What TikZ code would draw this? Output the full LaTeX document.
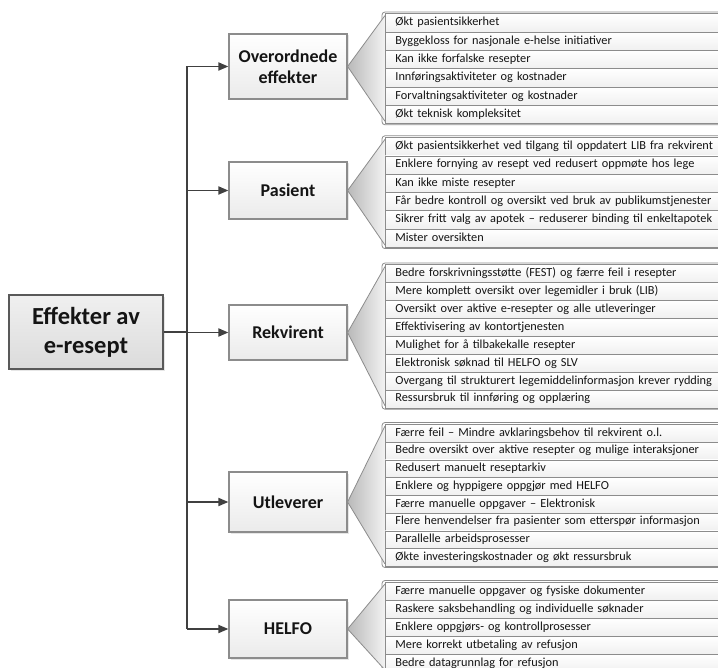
\documentclass[tikz,border=0pt]{standalone}
\usepackage{fontspec}
\setmainfont{Carlito}
\usetikzlibrary{shadows,arrows.meta}
\definecolor{bord}{HTML}{8C8C8C}
\definecolor{conn}{HTML}{404040}
\definecolor{txt}{HTML}{141414}
\tikzset{
  catbox/.style={draw=bord, line width=1.2pt, top color=white, bottom color=gray!16,
    minimum width=118pt, inner sep=2pt, align=center, text=txt,
    font=\fontsize{18}{21}\selectfont\bfseries,
    drop shadow={shadow xshift=1.5pt, shadow yshift=-1.5pt, opacity=0.2}},
  rootbox/.style={draw=gray!70!black, line width=2.4pt, top color=gray!12, bottom color=gray!28,
    minimum width=154pt, minimum height=74pt, align=center, text=txt,
    font=\fontsize{24.5}{29}\selectfont\bfseries,
    drop shadow={shadow xshift=2pt, shadow yshift=-2pt, opacity=0.2}},
  rowbox/.style={draw=bord, line width=0.8pt, top color=white, bottom color=gray!12,
    anchor=north west, minimum width=380pt, text width=360pt, inner xsep=9pt, inner ysep=0pt,
    align=left, text=txt, font=\fontsize{12.3}{14}\selectfont},
  conline/.style={draw=conn, line width=1.8pt},
  conarrow/.style={conline, -{Triangle[length=10pt,width=8pt]}},
  callframe/.style={draw=bord, line width=0.8pt, fill=white, rounded corners=3pt},
  pointer/.style={left color=gray!55, right color=gray!10},
  pointerline/.style={draw=bord, line width=0.8pt},
}
\newcommand\mkrows[4]{%
  \foreach \t [count=\i] in {#4} {
    \node[rowbox, minimum height=#3pt] (#1-\i) at (385, {#2+(\i-1)*#3}) {\strut\t};
  }}
\newcommand\mkcallout[3]{%
  \draw[callframe] (382,#2-1.5) rectangle (760,#3+1.5);
  \path[pointer] (385,#2+2) -- (#1.east) -- (385,#3-2) -- cycle;
  \draw[pointerline] (385,#2+2) -- (#1.east) -- (385,#3-2);
}
\begin{document}
\begin{tikzpicture}[x=1pt,y=-1pt]
\useasboundingbox (0,0) rectangle (718,668);
\clip (0,0) rectangle (718,668);

\node[rootbox] (root) at (86,332) {Effekter av\\e-resept};

\node[catbox, minimum height=65pt] (ove) at (288,66.5) {Overordnede\\effekter};
\node[catbox, minimum height=57pt] (pas) at (288,190.5) {Pasient};
\node[catbox, minimum height=55pt] (rek) at (288,332.5) {Rekvirent};
\node[catbox, minimum height=60pt] (utl) at (288,502) {Utleverer};
\node[catbox, minimum height=58pt] (hel) at (288,629) {HELFO};

\coordinate (sp) at (187,0);
\draw[conline] (root.east) -- (root.east -| sp);
\draw[conline, line join=miter] (ove.west -| sp) -- (hel.west -| sp);
\foreach \c in {ove,pas,rek,utl,hel} {
  \draw[conarrow] (\c.west -| sp) -- (\c.west);
}

\mkcallout{ove}{13.5}{123.3}
\mkrows{ove}{13.5}{18.3}{Økt pasientsikkerhet,Byggekloss for nasjonale e-helse initiativer,Kan ikke forfalske resepter,Innføringsaktiviteter og kostnader,Forvaltningsaktiviteter og kostnader,Økt teknisk kompleksitet}

\mkcallout{pas}{137.3}{247.1}
\mkrows{pas}{137.3}{18.3}{Økt pasientsikkerhet ved tilgang til oppdatert LIB fra rekvirent,Enklere fornying av resept ved redusert oppmøte hos lege,Kan ikke miste resepter,Får bedre kontroll og oversikt ved bruk av publikumstjenester,Sikrer fritt valg av apotek – reduserer binding til enkeltapotek,Mister oversikten}

\mkcallout{rek}{264.5}{407.7}
\mkrows{rek}{264.5}{17.9}{Bedre forskrivningsstøtte (FEST) og færre feil i resepter,Mere komplett oversikt over legemidler i bruk (LIB),Oversikt over aktive e-resepter og alle utleveringer,Effektivisering av kontortjenesten,Mulighet for å tilbakekalle resepter,Elektronisk søknad til HELFO og SLV,Overgang til strukturert legemiddelinformasjon krever rydding,Ressursbruk til innføring og opplæring}

\mkcallout{utl}{424}{566}
\mkrows{utl}{424}{17.75}{Færre feil – Mindre avklaringsbehov til rekvirent o.l.,Bedre oversikt over aktive resepter og mulige interaksjoner,Redusert manuelt reseptarkiv,Enklere og hyppigere oppgjør med HELFO,Færre manuelle oppgaver – Elektronisk,Flere henvendelser fra pasienter som etterspør informasjon,Parallelle arbeidsprosesser,Økte investeringskostnader og økt ressursbruk}

\mkcallout{hel}{582}{672}
\mkrows{hel}{582}{18}{Færre manuelle oppgaver og fysiske dokumenter,Raskere saksbehandling og individuelle søknader,Enklere oppgjørs- og kontrollprosesser,Mere korrekt utbetaling av refusjon,Bedre datagrunnlag for refusjon}
\end{tikzpicture}
\end{document}
